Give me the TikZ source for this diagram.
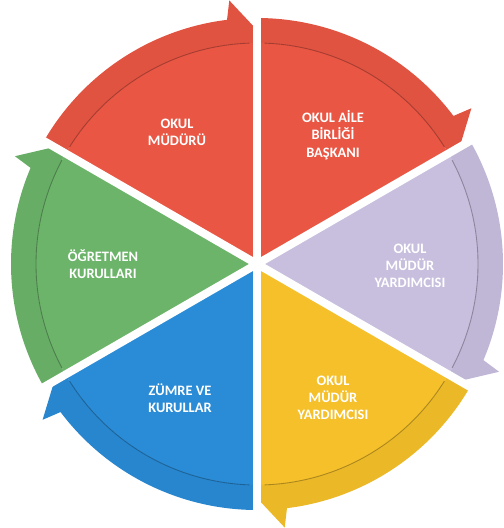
\documentclass[tikz,border=0pt]{standalone}
\usepackage{fontspec}
\setmainfont{Carlito}
\usepackage{tikz}
\usetikzlibrary{positioning}
\definecolor{redseg}{RGB}{234,86,68}
\definecolor{lilacseg}{RGB}{200,190,222}
\definecolor{yellowseg}{RGB}{245,192,42}
\definecolor{blueseg}{RGB}{42,140,214}
\definecolor{greenseg}{RGB}{108,180,106}

\begin{document}
\begin{tikzpicture}[lbl/.style={text=white, align=center, font=\fontsize{8.2}{9.8}\selectfont\bfseries}]
\useasboundingbox (0,0) rectangle (10.08,10.56);
\begin{scope}[shift={(5.14,5.28)}]
% sectors: start angle / colour, each arrow runs clockwise
\foreach \a/\c in {150/redseg, 90/redseg, 30/lilacseg, -30/yellowseg, -90/blueseg, 210/greenseg}{
  \pgfmathsetmacro{\e}{\a-60}
  \fill[\c] (0,0) -- (\a:4.42) arc[start angle=\a, end angle=\e, radius=4.42] -- cycle;
  \fill[\c!96!black] (\a:4.42) -- (\a:4.92) arc[start angle=\a, end angle=\e+7, radius=4.92]
    -- (\e+6:5.30) -- (\e:4.68) -- (\e:4.42) arc[start angle=\e, end angle=\a, radius=4.42] -- cycle;
  \draw[\c!70!black, line width=0.5pt] (\a-2:4.42) arc[start angle=\a-2, end angle=\e+2, radius=4.42];
}
% white gaps
\foreach \g in {90,30,-30,-90,-150,150}
  \draw[white, line width=0.16cm] (0,0) -- (\g:5.7);
\end{scope}
\node[lbl] (mudur) at (3.54,7.92) {OKUL\\MÜDÜRÜ};
\node[lbl] (aile) at (6.66,7.86) {OKUL AİLE\\BİRLİĞİ\\BAŞKANI};
\node[lbl] (yard1) at (8.20,5.24) {OKUL\\MÜDÜR\\YARDIMCISI};
\node[lbl] (yard2) at (6.66,2.60) {OKUL\\MÜDÜR\\YARDIMCISI};
\node[lbl] (zumre) at (3.60,2.60) {ZÜMRE VE\\KURULLAR};
\node[lbl] (ogretmen) at (2.06,5.28) {ÖĞRETMEN\\KURULLARI};
\end{tikzpicture}
\end{document}
